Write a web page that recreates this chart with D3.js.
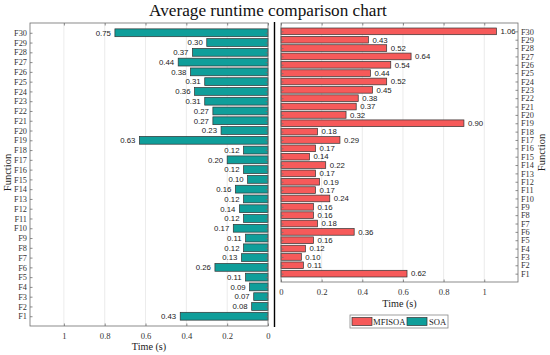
<!DOCTYPE html>
<html><head><meta charset="utf-8">
<script src="https://cdn.jsdelivr.net/npm/d3@7"></script>
<style>body{margin:0;background:#fff}</style>
</head><body>
<svg id="c" width="550" height="355"></svg>
<script>
const functions = d3.range(1, 31).map(i => "F" + i);
const soa = [0.43,0.08,0.07,0.09,0.11,0.26,0.13,0.12,0.11,0.17,0.12,0.14,0.12,0.16,0.10,0.12,0.20,0.12,0.63,0.23,0.27,0.27,0.31,0.36,0.31,0.38,0.44,0.37,0.30,0.75];
const mfisoa = [0.62,0.11,0.10,0.12,0.16,0.36,0.18,0.16,0.16,0.24,0.17,0.19,0.17,0.22,0.14,0.17,0.29,0.18,0.90,0.32,0.37,0.38,0.45,0.52,0.44,0.54,0.64,0.52,0.43,1.06];
const xTicks = [0, 0.2, 0.4, 0.6, 0.8, 1];
const seriesNames = ["MFISOA", "SOA"];
const colors = {MFISOA: "#F65A5A", SOA: "#0F9E9A"};

const svg = d3.select("#c");
const serif = "'Liberation Serif','Times New Roman',serif";
const sans = "'Liberation Sans',Arial,sans-serif";
const xMax = 1.166;
const axisCol = "#6e6e6e";

svg.append("text").attr("x", 268).attr("y", 16).attr("text-anchor", "middle")
  .attr("font-family", serif).attr("font-size", 17.2).attr("fill", "#111")
  .text("Average runtime comparison chart");

function panel(opts) {
  const {x0, x1, y0, y1, values, color, reversed, labelSide} = opts;
  const g = svg.append("g");
  const x = d3.scaleLinear().domain([0, xMax]).range(reversed ? [x1, x0] : [x0, x1]);
  const y = d3.scaleLinear().domain([0, 31]).range([y1, y0]);
  g.selectAll(".grid").data(xTicks.filter(t => t > 0)).join("line")
    .attr("x1", d => x(d)).attr("x2", d => x(d)).attr("y1", y0).attr("y2", y1)
    .attr("stroke", "#e6e6e6").attr("stroke-width", 0.8);
  const bw = 0.8;
  g.selectAll(".bar").data(values).join("rect")
    .attr("x", d => Math.min(x(0), x(d)))
    .attr("width", d => Math.abs(x(d) - x(0)))
    .attr("y", (d, i) => y(i + 1 + bw / 2))
    .attr("height", y(0) - y(bw))
    .attr("fill", color).attr("stroke", "#333").attr("stroke-width", 0.7);
  g.selectAll(".val").data(values).join("text")
    .attr("x", d => reversed ? x(d) - 4 : x(d) + 4)
    .attr("y", (d, i) => y(i + 1) + 2.8)
    .attr("text-anchor", reversed ? "end" : "start")
    .attr("font-family", sans).attr("font-size", 7.8).attr("fill", "#222")
    .text(d => d.toFixed(2));
  g.append("rect").attr("x", x0).attr("y", y0).attr("width", x1 - x0).attr("height", y1 - y0)
    .attr("fill", "none").attr("stroke", axisCol).attr("stroke-width", 0.8);
  const bottom = g.append("g").attr("transform", `translate(0,${y1})`)
    .call(d3.axisBottom(x).tickValues(xTicks).tickSize(-2.5).tickPadding(7).tickFormat(d3.format("~g")));
  const top = g.append("g").attr("transform", `translate(0,${y0})`)
    .call(d3.axisTop(x).tickValues(xTicks).tickSize(-2.5).tickFormat(""));
  [bottom, top].forEach(a => {
    a.attr("font-family", serif);
    a.select(".domain").remove();
    a.selectAll(".tick line").attr("stroke", axisCol).attr("stroke-width", 0.8);
    a.selectAll("text").attr("font-family", serif).attr("font-size", 8.6).attr("fill", "#333");
  });
  const yScale = d3.scalePoint().domain(functions).range([y(1), y(30)]);
  const leftAx = labelSide === "left"
    ? d3.axisLeft(yScale).tickSize(-2.5).tickPadding(3)
    : d3.axisLeft(yScale).tickSize(-2.5).tickFormat("");
  const rightAx = labelSide === "right"
    ? d3.axisRight(yScale).tickSize(-2.5).tickPadding(3)
    : d3.axisRight(yScale).tickSize(-2.5).tickFormat("");
  const la = g.append("g").attr("transform", `translate(${x0},0)`).call(leftAx);
  const ra = g.append("g").attr("transform", `translate(${x1},0)`).call(rightAx);
  [la, ra].forEach(a => {
    a.attr("font-family", serif);
    a.select(".domain").remove();
    a.selectAll(".tick line").attr("stroke", axisCol).attr("stroke-width", 0.8);
    a.selectAll("text").attr("font-family", serif).attr("font-size", 8.3).attr("fill", "#333");
  });
  return {x, y};
}

const L = {x0: 30, x1: 268, y0: 23, y1: 326};
panel({...L, values: soa, color: colors.SOA, reversed: true, labelSide: "left"});
svg.append("text").attr("x", (L.x0 + L.x1) / 2).attr("y", 350).attr("text-anchor", "middle")
  .attr("font-family", serif).attr("font-size", 10.2).attr("fill", "#222").text("Time (s)");
svg.append("text").attr("transform", `translate(11,${(L.y0 + L.y1) / 2 - 2}) rotate(-90)`)
  .attr("text-anchor", "middle").attr("font-family", serif).attr("font-size", 10.5).attr("fill", "#222")
  .text("Function");

const R = {x0: 281, x1: 518, y0: 23, y1: 282};
panel({...R, values: mfisoa, color: colors.MFISOA, reversed: false, labelSide: "right"});
svg.append("text").attr("x", (R.x0 + R.x1) / 2).attr("y", 307).attr("text-anchor", "middle")
  .attr("font-family", serif).attr("font-size", 10.2).attr("fill", "#222").text("Time (s)");
svg.append("text").attr("transform", `translate(545,${(R.y0 + R.y1) / 2}) rotate(-90)`)
  .attr("text-anchor", "middle").attr("font-family", serif).attr("font-size", 10.5).attr("fill", "#222")
  .text("Function");

svg.append("line").attr("x1", 274.5).attr("x2", 274.5).attr("y1", 22).attr("y2", 327)
  .attr("stroke", "#000").attr("stroke-width", 1.4);

const lg = svg.append("g");
const lgX = 350, lgY = 315;
lg.append("rect").attr("x", lgX).attr("y", lgY).attr("width", 98).attr("height", 13)
  .attr("fill", "#fff").attr("stroke", "#888").attr("stroke-width", 0.8);
const items = [{name: seriesNames[0], sx: lgX + 2, tx: lgX + 23}, {name: seriesNames[1], sx: lgX + 57, tx: lgX + 79}];
items.forEach(it => {
  lg.append("rect").attr("x", it.sx).attr("y", lgY + 2.5).attr("width", 20).attr("height", 8)
    .attr("fill", colors[it.name]).attr("stroke", "#333").attr("stroke-width", 0.7);
  lg.append("text").attr("x", it.tx).attr("y", lgY + 9.8).attr("font-family", serif)
    .attr("font-size", 8.6).attr("fill", "#222").text(it.name);
});
</script>
</body></html>
